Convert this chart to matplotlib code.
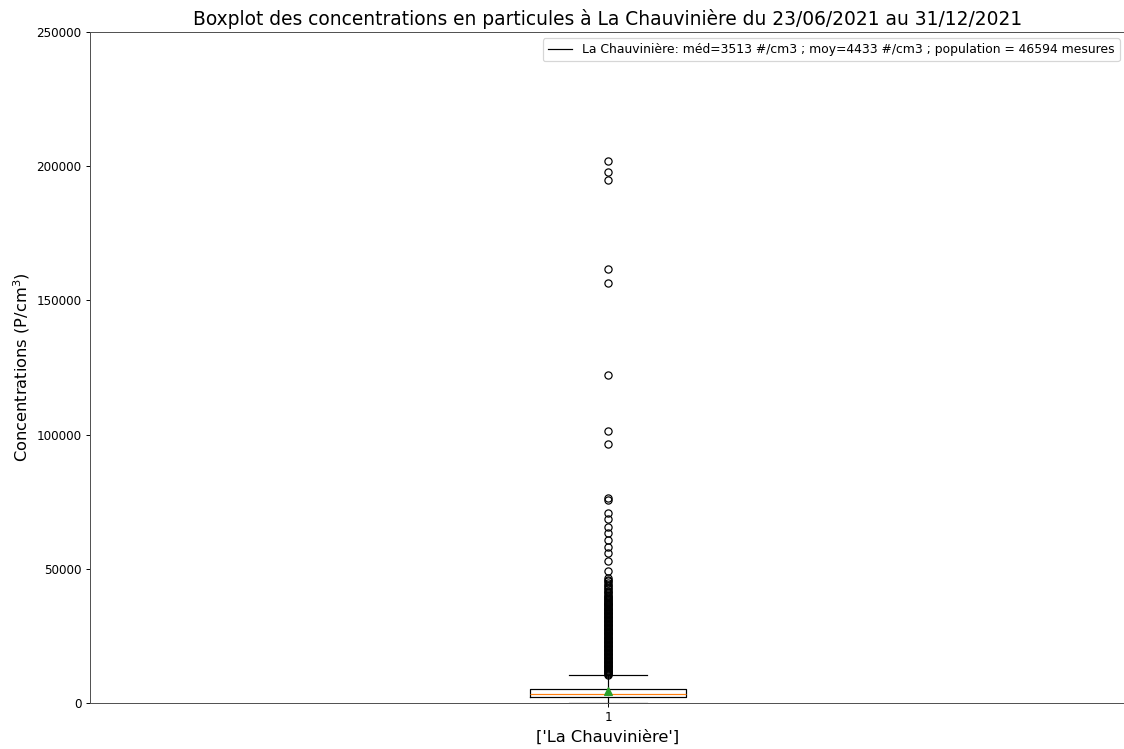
import matplotlib
matplotlib.use('Agg')
import matplotlib.pyplot as plt

# Statistiques de la station
station = 'La Chauvinière'
mediane = 3513
moyenne = 4433
population = 46594
q1 = 2150
q3 = 5350
whis_bas = 150
whis_haut = 10500

# Valeurs aberrantes (P/cm3)
aberrants_denses = [10600, 10900, 11200, 11500, 11800, 12100, 12400, 12700, 13000, 13300,
                    13600, 13900, 14200, 14500, 14800, 15100, 15400, 15700, 16000, 16300,
                    16600, 16900, 17200, 17500, 17800, 18100, 18400, 18700, 19000, 19300,
                    19600, 19900, 20200, 20500, 20800, 21100, 21400, 21700, 22000, 22300,
                    22600, 22900, 23200, 23500, 23800, 24100, 24400, 24700, 25000, 25300,
                    25600, 25900, 26200, 26500, 26800, 27100, 27400, 27700, 28000, 28300,
                    28600, 28900, 29200, 29500, 29800, 30100, 30400, 30700, 31000, 31300,
                    31600, 31900, 32200, 32500, 32800, 33100, 33400, 33700, 34000, 34300,
                    34600, 34900, 35200, 35500, 35800, 36100, 36400, 36700, 37000, 37300,
                    37600, 37900, 38200, 38600, 39000, 39400, 39800, 40300, 40800, 41300,
                    41800, 42300, 42900, 43500, 44100, 44700, 45300, 45900, 46400]
aberrants_isoles = [49300, 53000, 55800, 58200, 60700, 63200, 65700, 68400, 70900,
                    75600, 76300, 96500, 101400, 122100, 156600, 161600, 194900, 197700, 201800]

dpi = 86.4
fig = plt.figure(figsize=(1124 / dpi, 749 / dpi), dpi=dpi)
ax = fig.add_axes([90 / 1124, 1 - 703 / 749, 1036 / 1124, 671 / 749])

stats = [{
    'med': mediane,
    'mean': moyenne,
    'q1': q1,
    'q3': q3,
    'whislo': whis_bas,
    'whishi': whis_haut,
    'fliers': aberrants_denses + aberrants_isoles,
    'label': '1',
}]
ax.bxp(stats, widths=0.15, showmeans=True)

label = (station + ': méd=' + str(mediane) + ' #/cm3 ; moy=' + str(moyenne)
         + ' #/cm3 ; population = ' + str(population) + ' mesures')
ax.plot([], [], color='k', lw=1, label=label)
ax.legend(loc='upper right', fontsize=10.3)

for s in ax.spines.values():
    s.set_color('0.3')

ax.set_ylim(0, 250000)
ax.set_xlim(0.5, 1.5)
ax.set_title('Boxplot des concentrations en particules à ' + station
             + ' du 23/06/2021 au 31/12/2021', fontsize=15.5)
ax.set_ylabel('Concentrations (P/cm$^3$)', fontsize=13.5)
ax.set_xlabel(str([station]), fontsize=13.5)

fig.savefig('out.png', dpi=dpi)
